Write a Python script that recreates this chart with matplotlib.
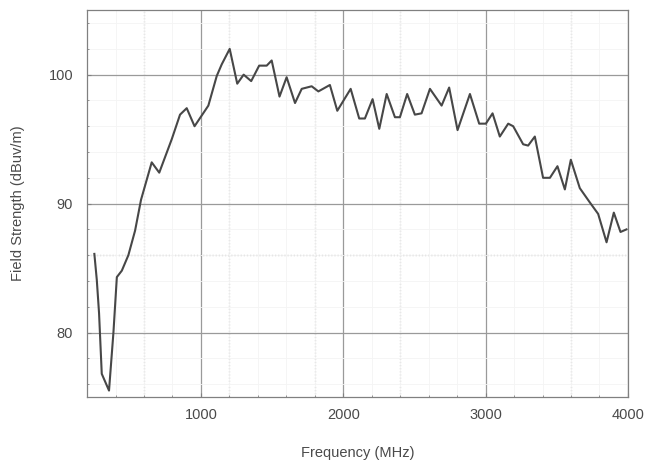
import matplotlib
matplotlib.use("Agg")
import matplotlib.pyplot as plt
import numpy as np
from matplotlib.ticker import MultipleLocator

# values
freq_mhz = [251, 268, 284, 303, 354, 385, 409, 444, 490, 537, 579, 654, 707,
            795, 853, 900, 955, 1052, 1111, 1146, 1202, 1255, 1300, 1353,
            1409, 1462, 1497, 1552, 1602, 1661, 1708, 1778, 1825, 1906, 1958,
            2052, 2112, 2152, 2206, 2253, 2305, 2363, 2398, 2449, 2503, 2550,
            2609, 2691, 2744, 2803, 2890, 2955, 3002, 3049, 3100, 3159, 3194,
            3264, 3299, 3346, 3404, 3452, 3505, 3557, 3599, 3662, 3732, 3791,
            3850, 3901, 3948, 3990]
field_dbuv = [86.1, 84.1, 81.5, 76.8, 75.5, 80.0, 84.3, 84.8, 86.0, 87.9,
              90.3, 93.2, 92.4, 95.0, 96.9, 97.4, 96.0, 97.6, 99.9, 100.8,
              102.0, 99.3, 100.0, 99.5, 100.7, 100.7, 101.1, 98.3, 99.8, 97.8,
              98.9, 99.1, 98.7, 99.2, 97.2, 98.9, 96.6, 96.6, 98.1, 95.8, 98.5,
              96.7, 96.7, 98.5, 96.9, 97.0, 98.9, 97.6, 99.0, 95.7, 98.5, 96.2,
              96.2, 97.0, 95.2, 96.2, 96.0, 94.6, 94.5, 95.2, 92.0, 92.0, 92.9,
              91.1, 93.4, 91.2, 90.1, 89.2, 87.0, 89.3, 87.8, 88.0]

x_dotted = [600, 1200, 1800, 2400, 3600]
y_dotted = [86]

plt.rcParams['font.family'] = ['Liberation Sans', 'DejaVu Sans']
text_color = '#4a4a4a'

fig = plt.figure(figsize=(6.5, 4.63), dpi=100)
ax = fig.add_axes([0.134, 0.1425, 0.832, 0.8355])

ax.set_xlim(200, 4000)
ax.set_ylim(75, 105)
ax.xaxis.set_major_locator(MultipleLocator(1000))
ax.yaxis.set_major_locator(MultipleLocator(10))
ax.xaxis.set_minor_locator(MultipleLocator(200))
ax.yaxis.set_minor_locator(MultipleLocator(2))

# very faint minor grid, dotted secondary grid, solid major grid
ax.grid(which='minor', color='#f4f4f4', lw=0.6)
ax.grid(which='major', color='#9a9a9a', lw=0.9)
for xv in x_dotted:
    ax.axvline(xv, color='#b0b0b0', lw=0.9, ls=(0, (1, 1.5)), zorder=1)
for yv in y_dotted:
    ax.axhline(yv, color='#a0a0a0', lw=0.9, ls=(0, (1, 1.5)), zorder=1)

ax.plot(freq_mhz, field_dbuv, color='#474747', lw=1.5, zorder=3)

for s in ax.spines.values():
    s.set_color('#808080')
    s.set_linewidth(0.9)

ax.tick_params(which='both', direction='in', colors='#808080', labelcolor=text_color,
               labelsize=10.5)
ax.tick_params(which='major', length=3)
ax.tick_params(which='minor', length=1.5)
ax.tick_params(axis='x', pad=8)
ax.tick_params(axis='y', pad=10)

ax.set_xlabel('Frequency (MHz)', fontsize=10.5, color=text_color, labelpad=17)
ax.set_ylabel('Field Strength (dBuv/m)', fontsize=10.5, color=text_color, labelpad=17)

fig.savefig('out.png', dpi=100)
